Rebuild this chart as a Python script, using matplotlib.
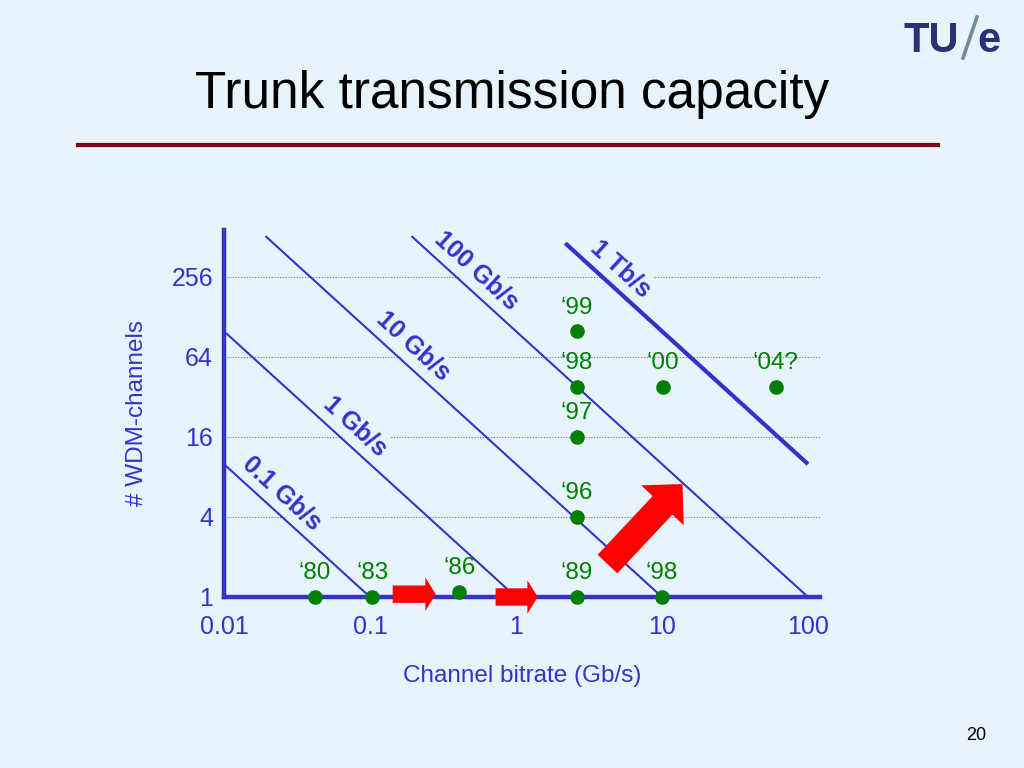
import numpy as np
import matplotlib
matplotlib.use("Agg")
import matplotlib.pyplot as plt
from matplotlib.lines import Line2D

plt.rcParams['font.family'] = ['Liberation Sans', 'DejaVu Sans']

bg = '#E8F4FC'
blue = '#3333CC'
green = '#007F00'
red = '#FF0000'

# capacity lines (Gb/s), their labels and where the drawn line starts at the top
capacities = [0.1, 1, 10, 100, 1000]
cap_labels = ['0.1 Gb/s', '1 Gb/s', '10 Gb/s', '100 Gb/s', '1 Tb/s']
cap_label_x = [0.0207, 0.065, 0.163, 0.44, 4.3]
cap_top = [520, 520, 520, 520, 460]

# system milestones: bitrate (Gb/s), number of channels, year label
sys_rate = [0.042, 0.104, 0.41, 2.6, 10, 2.6, 2.6, 2.6, 2.6, 10.2, 60]
sys_chan = [1, 1, 1.09, 1, 1, 4, 16, 38, 100, 38, 38]
sys_year = ['\u201880', '\u201883', '\u201886', '\u201889', '\u201898', '\u201896',
            '\u201897', '\u201898', '\u201899', '\u201800', '\u201804?']

# red arrows (tail -> head)
arrow_from = [(0.143, 1.05), (0.725, 1.0), (4.23, 1.77)]
arrow_to = [(0.282, 1.05), (1.41, 1.0), (13.8, 7.08)]

x_ticks = [0.01, 0.1, 1, 10, 100]
x_ticklabels = ['0.01', '0.1', '1', '10', '100']
y_ticks = [1, 4, 16, 64, 256]

fig = plt.figure(figsize=(10.24, 7.68), dpi=100, facecolor=bg)
ax = fig.add_axes([224/1024, 1-597/768, 596/1024, 367/768])
ax.set_facecolor(bg)
ax.set_xscale('log')
ax.set_yscale('log')
ax.set_xlim(0.01, 120.8)
ax.set_ylim(1, 578)

for s in ['top', 'right']:
    ax.spines[s].set_visible(False)
for s in ['left', 'bottom']:
    ax.spines[s].set_color(blue)
    ax.spines[s].set_linewidth(3.2)

ax.set_xticks(x_ticks)
ax.set_xticklabels(x_ticklabels)
ax.set_yticks(y_ticks)
ax.set_yticklabels([str(v) for v in y_ticks])
ax.minorticks_off()
ax.tick_params(length=0, labelsize=18, labelcolor=blue)
ax.tick_params(axis='x', pad=13)
ax.tick_params(axis='y', pad=8)

ax.set_axisbelow(True)
ax.yaxis.grid(True, color='#6670B8', linestyle=(0, (1, 1.5)), linewidth=0.8)

for c, top in zip(capacities, cap_top):
    x0 = max(0.01, c / top)
    x1 = min(100, c)
    xs = np.array([x0, x1])
    lw = 3.0 if c == 1000 else 1.5
    ax.plot(xs, c / xs, color=blue, lw=lw, zorder=3, solid_capstyle='butt')

# angle of the capacity lines on screen
p1 = ax.transData.transform((1, 1))
p2 = ax.transData.transform((10, 0.1))
ang = np.degrees(np.arctan2(p2[1] - p1[1], p2[0] - p1[0]))
nx, ny = -np.sin(np.radians(ang)), np.cos(np.radians(ang))
d = 13
for c, lab, xl in zip(capacities, cap_labels, cap_label_x):
    ax.annotate(lab, xy=(xl, c / xl), xytext=(nx * d, ny * d), textcoords='offset points',
                rotation=ang, rotation_mode='anchor', ha='center', va='center',
                fontsize=18, fontweight='bold', color=blue, zorder=2.5,
                bbox=dict(boxstyle='square,pad=0.15', fc=bg, ec='none'))

ax.plot(sys_rate, sys_chan, 'o', color=green, markersize=9.5, zorder=5, clip_on=False)
for xr, yc, yr in zip(sys_rate, sys_chan, sys_year):
    ax.annotate(yr, xy=(xr, yc), xytext=(0, 17), textcoords='offset points',
                ha='center', va='center', fontsize=17.5, color=green, zorder=5,
                annotation_clip=False)

for i, (a, b) in enumerate(zip(arrow_from, arrow_to)):
    if i < 2:
        style = 'simple,head_length=0.75,head_width=2.4,tail_width=1.25'
    else:
        style = 'simple,head_length=2.1,head_width=4.2,tail_width=1.95'
    ax.annotate('', xy=b, xytext=a,
                arrowprops=dict(arrowstyle=style, mutation_scale=10, fc=red, ec='none',
                                shrinkA=0, shrinkB=0, clip_on=False),
                annotation_clip=False, zorder=6)

ax.set_xlabel('Channel bitrate (Gb/s)', fontsize=17.5, color=blue, labelpad=19)
ax.set_ylabel('# WDM-channels', fontsize=17.5, color=blue, labelpad=17)

# slide decoration
fig.text(0.5, 1 - 108/768, 'Trunk transmission capacity', ha='center', va='baseline',
         fontsize=37, color='black')
fig.add_artist(Line2D([78/1024, 938/1024], [1 - 145/768] * 2, lw=3, color='#80000F'))
fig.text(904/1024, 1 - 52/768, 'TU', ha='left', va='baseline', fontsize=30,
         fontweight='bold', color='#2E2F78')
fig.add_artist(Line2D([963/1024, 977/1024], [1 - 58/768, 1 - 17/768], lw=2.6,
                      color='#6F8E98'))
fig.text(977/1024, 1 - 52/768, 'e', ha='left', va='baseline', fontsize=30,
         fontweight='bold', color='#2E2F78')
fig.text(976/1024, 1 - 735/768, '20', ha='center', va='center', fontsize=13, color='black')

fig.savefig('out.png', dpi=100, facecolor=bg)
